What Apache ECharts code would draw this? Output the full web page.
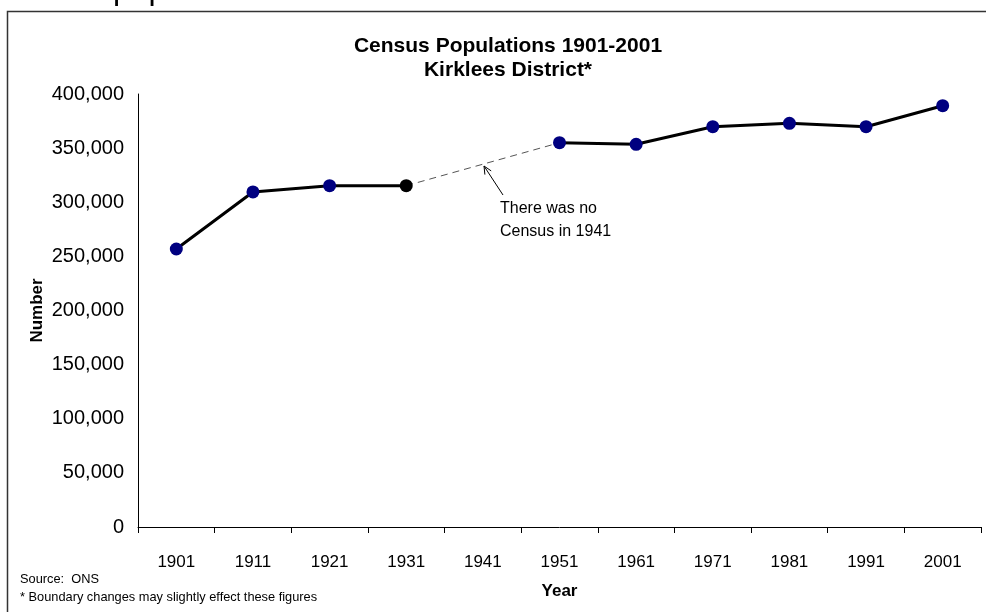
<!DOCTYPE html>
<html>
<head>
<meta charset="utf-8">
<script src="https://cdn.jsdelivr.net/npm/echarts@6/dist/echarts.min.js"></script>
<style>
html,body{margin:0;padding:0;background:#fff;}
#chart{width:986px;height:612px;}
</style>
</head>
<body>
<div id="chart"></div>
<script>
// Data
var years = ['1901','1911','1921','1931','1941','1951','1961','1971','1981','1991','2001'];
var population = [256800, 309500, 315300, 315300, null, 355000, 353500, 369800, 372900, 369800, 389200];
var gapBridge = [null, null, null, 315300, null, 355000, null, null, null, null, null];
var yTicks = [0, 50000, 100000, 150000, 200000, 250000, 300000, 350000, 400000];

var FONT = 'Liberation Sans, Arial, sans-serif';
var chart = echarts.init(document.getElementById('chart'), null, {renderer: 'canvas'});

var mainData = population.map(function (v, i) {
  if (years[i] === '1931') return {value: v, itemStyle: {color: '#000000'}};
  return v;
});

chart.setOption({
  backgroundColor: '#ffffff',
  animation: false,
  title: {
    text: 'Census Populations 1901-2001\nKirklees District*',
    left: 503, top: 29, textAlign: 'center',
    textStyle: {fontFamily: FONT, fontSize: 21, fontWeight: 'bold', color: '#000', lineHeight: 24}
  },
  grid: {left: 138, right: 5, top: 94, bottom: 85, containLabel: false},
  xAxis: {
    type: 'category',
    data: years,
    boundaryGap: true,
    name: 'Year',
    nameLocation: 'middle',
    nameGap: 56,
    nameTextStyle: {fontFamily: FONT, fontSize: 17, fontWeight: 'bold', color: '#000'},
    axisLine: {lineStyle: {color: '#000', width: 1}},
    axisTick: {show: true, alignWithLabel: false, length: 6, lineStyle: {color: '#000'}},
    axisLabel: {fontFamily: FONT, fontSize: 17, color: '#000', margin: 27},
    splitLine: {show: false}
  },
  yAxis: {
    type: 'value',
    min: yTicks[0],
    max: yTicks[yTicks.length - 1],
    interval: yTicks[1] - yTicks[0],
    name: 'Number',
    nameLocation: 'middle',
    nameRotate: 90,
    nameGap: 92,
    nameMoveOverlap: false,
    nameTextStyle: {fontFamily: FONT, fontSize: 17, fontWeight: 'bold', color: '#000'},
    axisLine: {show: true, lineStyle: {color: '#000', width: 1}},
    axisTick: {show: false},
    axisLabel: {
      fontFamily: FONT, fontSize: 20, color: '#000', margin: 14,
      formatter: function (v) { return v.toLocaleString('en-GB'); }
    },
    splitLine: {show: false}
  },
  series: [
    {
      type: 'line',
      data: gapBridge,
      connectNulls: true,
      showSymbol: false,
      symbol: 'none',
      lineStyle: {color: '#555555', width: 1, type: [7, 5]},
      z: 1,
      silent: true
    },
    {
      type: 'line',
      data: mainData,
      connectNulls: false,
      symbol: 'circle',
      symbolSize: 13,
      lineStyle: {color: '#000000', width: 3},
      itemStyle: {color: '#000080'},
      z: 3
    }
  ],
  graphic: [
    {
      type: 'rect', silent: true,
      shape: {x: 7.5, y: 11.5, width: 1100, height: 800},
      style: {fill: 'none', stroke: '#333', lineWidth: 1.5}
    },
    {
      type: 'text', silent: true, left: 113, top: -26,
      style: {text: 'population', fontFamily: FONT, fontSize: 32, fill: '#000'}
    },
    {
      type: 'text', silent: true, left: 500, top: 197,
      style: {text: 'There was no\nCensus in 1941', fontFamily: FONT, fontSize: 16, lineHeight: 23, fill: '#000'}
    },
    {
      type: 'polyline', silent: true,
      shape: {points: [[503, 195], [484, 166]]},
      style: {stroke: '#000', lineWidth: 1, fill: 'none'}
    },
    {
      type: 'polyline', silent: true,
      shape: {points: [[491.2, 170.9], [484, 166], [484.9, 174.6]]},
      style: {stroke: '#000', lineWidth: 1, fill: 'none'}
    },
    {
      type: 'text', silent: true, left: 20, top: 570,
      style: {text: 'Source:  ONS\n* Boundary changes may slightly effect these figures', fontFamily: FONT, fontSize: 12.8, lineHeight: 18, fill: '#000'}
    }
  ]
});
</script>
</body>
</html>
